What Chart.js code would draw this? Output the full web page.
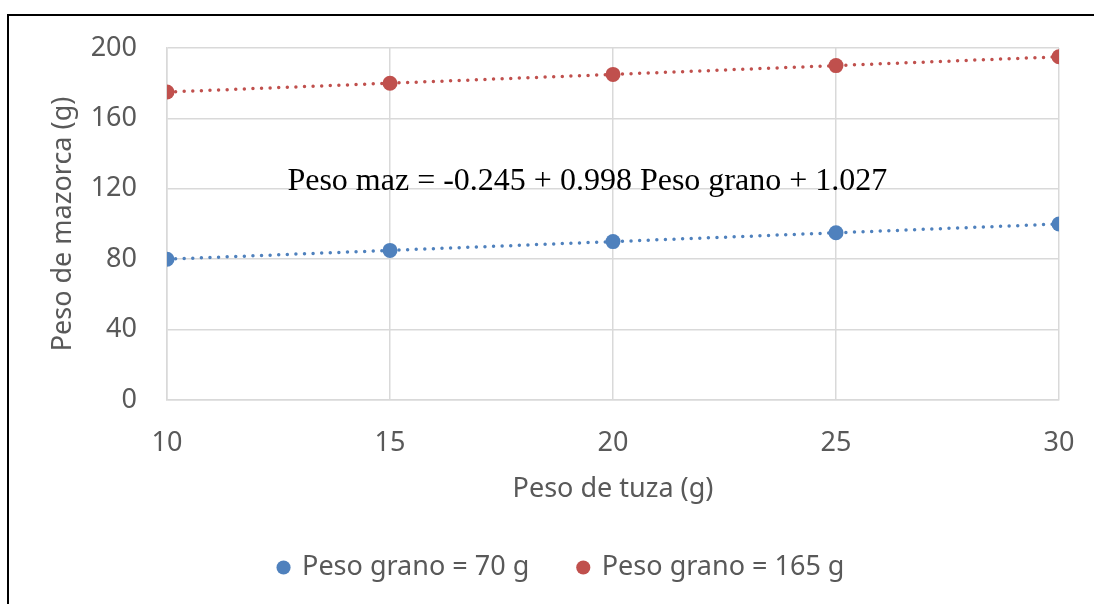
<!DOCTYPE HTML>
<html>
<head>
    <meta charset="utf-8" />
    <title>Peso de mazorca vs peso de tuza</title>
    <script src="https://cdn.jsdelivr.net/npm/chart.js@4.4.0/dist/chart.umd.min.js"></script>
    <style type="text/css">
        body { margin: 0; background: #fff; }
        #wrap { width: 1094px; height: 604px; }
    </style>
</head>
<body>
    <div id="wrap"><canvas id="chartTuza" width="1094" height="604"></canvas></div>

    <script>
        // data
        var pesoTuza = [10, 15, 20, 25, 30];
        var grano70 = [80, 85, 90, 95, 100];
        var grano165 = [175, 180, 185, 190, 195];
        var seriesNames = ['Peso grano = 70 g', 'Peso grano = 165 g'];
        var equationText = 'Peso maz = -0.245 + 0.998 Peso grano + 1.027';

        var gray = '#595959';
        var gridColor = '#d9d9d9';
        var sansFont = '"Noto Sans", "Open Sans", sans-serif';

        function toPoints(ys) {
            var pts = [];
            for (var i = 0; i < pesoTuza.length; i++) {
                pts.push({ x: pesoTuza[i], y: ys[i] });
            }
            return pts;
        }

        // black frame (left + top) and the regression text
        var extras = {
            id: 'extras',
            afterLayout: function (chart) {
                // legend sits a bit right of centre in the original
                if (chart.legend) {
                    chart.legend.left += 32;
                    chart.legend.right += 32;
                    chart.legend.top += 2;
                    chart.legend.bottom += 2;
                }
            },
            afterDraw: function (chart) {
                var ctx = chart.ctx;
                ctx.save();
                ctx.strokeStyle = '#000';
                ctx.lineWidth = 2;
                ctx.beginPath();
                ctx.moveTo(8, 604);
                ctx.lineTo(8, 15);
                ctx.lineTo(1094, 15);
                ctx.stroke();

                var xs = chart.scales.x, ys = chart.scales.y;
                ctx.fillStyle = '#000';
                ctx.font = '32px "Liberation Serif", "Times New Roman", serif';
                ctx.textAlign = 'left';
                ctx.textBaseline = 'middle';
                ctx.fillText(equationText, xs.getPixelForValue(12.7), ys.getPixelForValue(124));
                ctx.restore();
            }
        };

        function dotted(color) {
            return {
                showLine: true,
                borderColor: color,
                backgroundColor: color,
                borderWidth: 3.5,
                borderDash: [0, 8.6],
                borderCapStyle: 'round',
                pointRadius: 7.5,
                pointHoverRadius: 7.5,
                pointBorderWidth: 0,
                pointBackgroundColor: color
            };
        }

        var ds1 = Object.assign({ label: seriesNames[0], data: toPoints(grano70) }, dotted('#4f81bd'));
        var ds2 = Object.assign({ label: seriesNames[1], data: toPoints(grano165) }, dotted('#c0504d'));

        var ctx = document.getElementById('chartTuza').getContext('2d');
        var myChart = new Chart(ctx, {
            type: 'scatter',
            data: { datasets: [ds1, ds2] },
            plugins: [extras],
            options: {
                responsive: false,
                animation: false,
                layout: { padding: { left: 0, top: 48, right: 35, bottom: 15 } },
                plugins: {
                    tooltip: { enabled: false },
                    legend: {
                        position: 'bottom',
                        labels: {
                            usePointStyle: true,
                            pointStyle: 'circle',
                            boxHeight: 10,
                            boxWidth: 10,
                            padding: 49,
                            color: gray,
                            font: { family: sansFont, size: 27 }
                        }
                    }
                },
                scales: {
                    x: {
                        type: 'linear',
                        min: 10,
                        max: 30,
                        afterFit: function (scale) {
                            scale.height = 103;
                            scale.paddingLeft = 0;
                            scale.paddingRight = 0;
                        },
                        ticks: {
                            stepSize: 5,
                            padding: 27,
                            color: gray,
                            font: { family: sansFont, size: 27 }
                        },
                        grid: { color: gridColor, lineWidth: 1.5, drawTicks: false },
                        border: { color: gridColor, width: 1.5 },
                        title: {
                            display: true,
                            text: 'Peso de tuza (g)',
                            color: gray,
                            font: { family: sansFont, size: 27 },
                            padding: { top: 0, bottom: -3 }
                        }
                    },
                    y: {
                        min: 0,
                        max: 200,
                        afterFit: function (scale) { scale.width = 167; },
                        ticks: {
                            stepSize: 40,
                            padding: 30,
                            color: gray,
                            font: { family: sansFont, size: 27 }
                        },
                        grid: { color: gridColor, lineWidth: 1.5, drawTicks: false },
                        border: { color: gridColor, width: 1.5 },
                        title: {
                            display: true,
                            text: 'Peso de mazorca (g)',
                            color: gray,
                            font: { family: sansFont, size: 27 },
                            padding: { top: 47, bottom: 0 }
                        }
                    }
                }
            }
        });
    </script>
</body>
</html>
